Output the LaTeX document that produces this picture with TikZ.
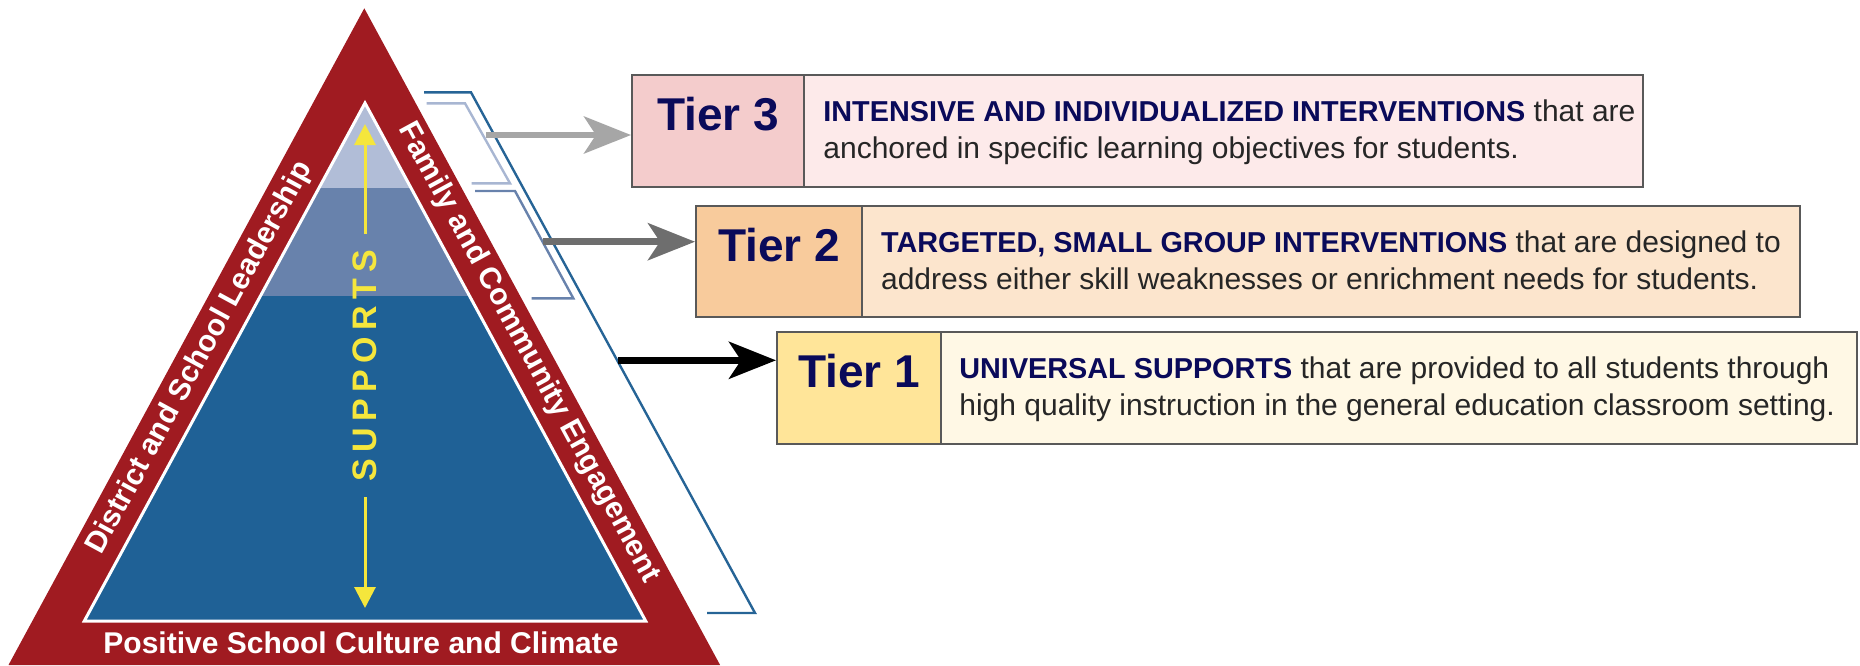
\documentclass[tikz,border=0pt]{standalone}
\usepackage{fontspec}
\setmainfont{Liberation Sans}

\definecolor{pyrred}{RGB}{160,27,33}
\definecolor{tierdark}{RGB}{31,97,150}
\definecolor{tiermid}{RGB}{104,130,172}
\definecolor{tierlight}{RGB}{177,189,215}
\definecolor{bracketlight}{RGB}{168,182,210}
\definecolor{bracketdark}{RGB}{38,100,150}
\definecolor{navytext}{RGB}{10,10,90}
\definecolor{supyellow}{RGB}{245,230,60}
\definecolor{labthree}{RGB}{244,204,204}
\definecolor{bgthree}{RGB}{253,234,234}
\definecolor{labtwo}{RGB}{248,203,156}
\definecolor{bgtwo}{RGB}{252,229,205}
\definecolor{labone}{RGB}{255,229,153}
\definecolor{bgone}{RGB}{255,248,229}

\newcommand{\lead}[1]{\textcolor{navytext}{\fontsize{14.4}{15}\selectfont\bfseries #1}}

\begin{document}
\begin{tikzpicture}[x=0.5pt,y=-0.5pt,
        labbox/.style={draw=black!65, line width=1pt, inner sep=0pt,
            font=\bfseries\fontsize{23}{23}\selectfont, text=navytext},
        descbox/.style={draw=black!65, line width=1pt, inner sep=0pt},
        desc/.style={inner sep=0pt, anchor=base west,
            font=\fontsize{15}{15}\selectfont, text=black!85},
        bandtext/.style={text=white, inner sep=0pt,
            font=\bfseries\fontsize{15}{15}\selectfont},
        tierarrow/.style={line width=3.3pt,
            -{Stealth[length=23.5pt,width=18.5pt,inset=6pt]}},
        bracket/.style={line width=1.2pt},
        supline/.style={supyellow, line width=1.5pt,
            -{Triangle[length=10.5pt,width=10.5pt]}}]
        \usetikzlibrary{calc,fit,arrows.meta}
        \useasboundingbox (0,0) rectangle (1860,665);

        % pyramid
        \fill[pyrred] (8.5,665) -- (364.3,8.3) -- (720.1,665) -- cycle;
        \begin{scope}
            \clip (365,103) -- (84.3,621) -- (645.7,621) -- cycle;
            \fill[tierlight] (80,100) rectangle (650,188);
            \fill[tiermid]   (80,188) rectangle (650,296);
            \fill[tierdark]  (80,296) rectangle (650,625);
        \end{scope}
        \draw[white, line width=1.5pt] (365,103) -- (84.3,621) -- (645.7,621) -- cycle;

        \node[bandtext, rotate=61.5]  (lead)    at (200,358)   {District and School Leadership};
        \node[bandtext, rotate=-61.5] (family)  at (528.5,353) {Family and Community Engagement};
        \node[bandtext, anchor=base]  (culture) at (361,653)   {Positive School Culture and Climate};

        \node[text=supyellow, inner sep=0pt, rotate=90,
            font=\bfseries\fontsize{17}{17}\selectfont] (sup) at (365,366)
            {S\kern3.2pt U\kern3.2pt P\kern3.2pt P\kern3.2pt O\kern3.2pt R\kern3.2pt T\kern3.2pt S};
        \coordinate (uptip)   at (365,124);
        \coordinate (downtip) at (365,608);
        \draw[supline] ($(sup.east)+(0,-16)$) -- (uptip);
        \draw[supline] ($(sup.west)+(0,15)$)  -- (downtip);

        % brackets
        \draw[bracket, bracketdark] (424,92.3) -- (471,92.3) -- (755,613) -- (707,613);
        \draw[bracket, bracketlight] (426.7,103.3) -- (465,103.3) -- (510,183.3) -- (471.7,183.3);
        \draw[bracket, tiermid] (475,191) -- (515,191) -- (573.3,298.3) -- (531.7,298.3);

        % tier boxes
        \node[labbox, fill=labthree, fit={(632,75) (804,187)}] (tier3) {Tier 3\hspace{5pt}};
        \node[descbox, fill=bgthree, fit={(804,75) (1643,187)}] (desc3) {};
        \node[desc] (d3a) at (823,121.7) {\lead{INTENSIVE AND INDIVIDUALIZED INTERVENTIONS} that are};
        \node[desc] (d3b) at (823,158.3) {anchored in specific learning objectives for students.};

        \node[labbox, fill=labtwo, fit={(696,205.7) (862,317)}] (tier2) {Tier 2\hspace{4pt}};
        \node[descbox, fill=bgtwo, fit={(862,205.7) (1800,317)}] (desc2) {};
        \node[desc] (d2a) at (880.7,252.7) {\lead{TARGETED, SMALL GROUP INTERVENTIONS} that are designed to};
        \node[desc] (d2b) at (880.7,289) {address either skill weaknesses or enrichment needs for students.};

        \node[labbox, fill=labone, fit={(777,332) (941,443.5)}] (tier1) {Tier 1\hspace{5pt}};
        \node[descbox, fill=bgone, fit={(941,332) (1857,443.5)}] (desc1) {};
        \node[desc] (d1a) at (959,378.7) {\lead{UNIVERSAL SUPPORTS} that are provided to all students through};
        \node[desc] (d1b) at (959,415.2) {high quality instruction in the general education classroom setting.};

        % arrows
        \coordinate (from3) at (486,135);
        \coordinate (from2) at (543,241.7);
        \coordinate (from1) at (618,360.3);
        \draw[tierarrow, black!35] (from3) -- (from3 -| tier3.west);
        \draw[tierarrow, black!57] (from2) -- (from2 -| tier2.west);
        \draw[tierarrow, black]    (from1) -- (from1 -| tier1.west);
    \end{tikzpicture}
\end{document}
